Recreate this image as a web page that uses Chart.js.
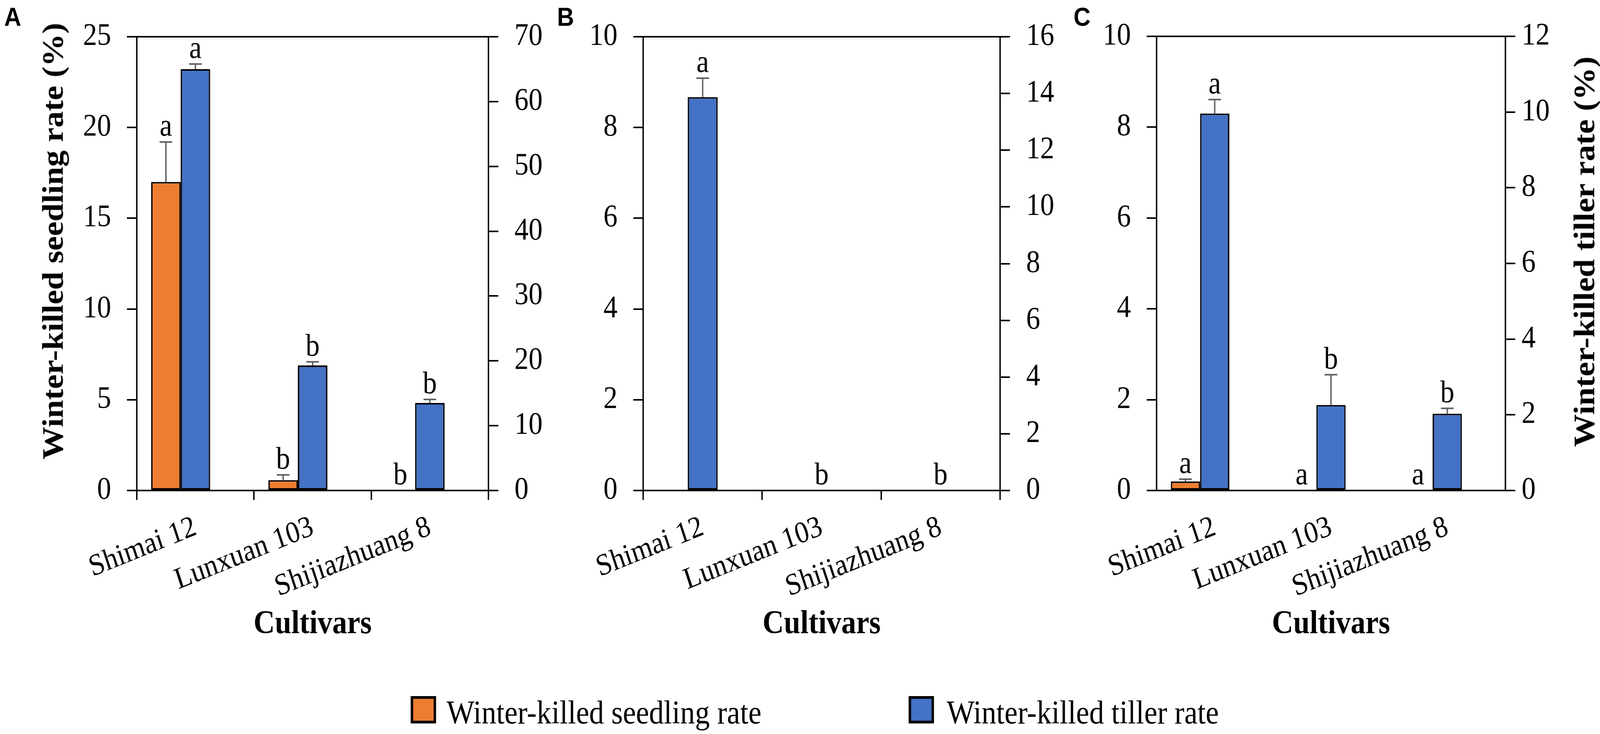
<!DOCTYPE html>
<html>
<head>
<meta charset="utf-8">
<script src="https://cdn.jsdelivr.net/npm/chart.js@4.4.1/dist/chart.umd.min.js"></script>
<style>
  html, body { margin: 0; background: #fff; overflow: hidden; }
  #page { position: absolute; left: 0; top: 0; width: 4550px; height: 1878px; transform-origin: 0 0; background: #fff; }
  canvas { position: absolute; top: 0; }
  .tag { position: absolute; top: 9px; font: bold 67px/67px "Liberation Sans", Arial, sans-serif; color: #000; }
  .box { position: absolute; top: 1781px; width: 58px; height: 56px; border: 7px solid #000; }
  .key { position: absolute; top: 1781px; font: 84px/84px "Liberation Serif", "Times New Roman", serif; white-space: nowrap; color: #000; }
  .vtitle { position: absolute; transform: translate(-50%, -50%) rotate(-90deg);
            font: bold 84px/84px "Liberation Serif", "Times New Roman", serif; white-space: nowrap; color: #000; }
</style>
</head>
<body>
<div id="page">
<canvas id="chartA" style="left:0px"></canvas>
<canvas id="chartB" style="left:1560px"></canvas>
<canvas id="chartC" style="left:3070px"></canvas>

<div class="tag" style="left:12px">A</div>
<div class="tag" style="left:1584px">B</div>
<div class="tag" style="left:3053px">C</div>
<div class="vtitle" style="left:150px; top:617px">Winter-killed seedling rate (%)</div>
<div class="vtitle" style="left:4505px; top:644px">Winter-killed tiller rate (%)</div>

<div class="box" style="left:1168px; background:#ED7D31"></div>
<div class="key" style="left:1270px">Winter-killed seedling rate</div>
<div class="box" style="left:2584px; background:#4472C4"></div>
<div class="key" style="left:2692px">Winter-killed tiller rate</div>
</div>

<script>
const cultivars = ["Shimai 12", "Lunxuan 103", "Shijiazhuang 8"];

// panel A
const seedA = [17.0, 0.57, 0];
const seedErrA = [2.2, 0.29, 0];
const seedLetA = ["a", "b", "b"];
const tillerA = [65.0, 19.3, 13.5];
const tillerErrA = [0.8, 0.55, 0.55];
const tillerLetA = ["a", "b", "b"];
const leftAxisA = [0, 25, 5];    // min, max, step
const rightAxisA = [0, 70, 10];

// panel B
const seedB = [0, 0, 0];
const seedErrB = [0, 0, 0];
const seedLetB = ["", "", ""];
const tillerB = [13.87, 0, 0];
const tillerErrB = [0.67, 0, 0];
const tillerLetB = ["a", "b", "b"];
const leftAxisB = [0, 10, 2];
const rightAxisB = [0, 16, 2];

// panel C
const seedC = [0.2, 0, 0];
const seedErrC = [0.05, 0, 0];
const seedLetC = ["a", "a", "a"];
const tillerC = [9.96, 2.26, 2.03];
const tillerErrC = [0.37, 0.8, 0.14];
const tillerLetC = ["a", "b", "b"];
const leftAxisC = [0, 10, 2];
const rightAxisC = [0, 12, 2];

// layout is done at 4550x1878, the window can be narrower (4096) so stretch to fit it
document.getElementById("page").style.transform =
    "scale(" + (window.innerWidth / 4550) + "," + (window.innerHeight / 1878) + ")";

Chart.defaults.font.family = "'Liberation Serif', 'Times New Roman', serif";
Chart.defaults.color = "#000";

// error bars (upper half only) and letters above them
const errorBars = {
    id: "errorBars",
    afterDatasetsDraw(chart) {
        const ctx = chart.ctx;
        chart.data.datasets.forEach((ds, i) => {
            if (!ds.errors) return;
            const meta = chart.getDatasetMeta(i);
            const scale = chart.scales[ds.yAxisID];
            meta.data.forEach((bar, j) => {
                const v = ds.data[j], e = ds.errors[j];
                const top = scale.getPixelForValue(v + e);
                ctx.save();
                if (e > 0) {
                    const base = scale.getPixelForValue(v);
                    ctx.strokeStyle = "#5f5f5f";
                    ctx.lineWidth = 4;
                    ctx.beginPath();
                    ctx.moveTo(bar.x, base);
                    ctx.lineTo(bar.x, top);
                    ctx.moveTo(bar.x - 18, top);
                    ctx.lineTo(bar.x + 18, top);
                    ctx.stroke();
                }
                if (ds.letters && ds.letters[j]) {
                    ctx.fillStyle = "#000";
                    ctx.font = "80px 'Liberation Serif', serif";
                    ctx.textAlign = "center";
                    ctx.textBaseline = "alphabetic";
                    ctx.fillText(ds.letters[j], bar.x, top - 16);
                }
                ctx.restore();
            });
        });
    }
};

function yScale(pos, range, p) {
    return {
        position: pos,
        min: range[0],
        max: range[1],
        ticks: { stepSize: range[2], font: { size: 80 }, padding: pos == "left" ? 45 : p.rightPad },
        grid: { drawOnChartArea: false, color: "#000", lineWidth: 4, tickLength: 28 },
        border: { color: "#000", width: 4 },
        afterFit: (s) => { s.width = pos == "left" ? p.leftW : p.rightW; }
    };
}

function makePanel(id, w, p) {
    const cv = document.getElementById(id);
    cv.width = w;
    cv.height = 1700;
    const bar = { borderColor: "#000", borderWidth: 4, borderSkipped: false, categoryPercentage: 0.755, barPercentage: 1 };
    new Chart(cv, {
        type: "bar",
        data: {
            labels: cultivars,
            datasets: [
                Object.assign({ label: "Winter-killed seedling rate", data: p.seed, errors: p.seedErr, letters: p.seedLet,
                    yAxisID: "yL", backgroundColor: "#ED7D31" }, bar),
                Object.assign({ label: "Winter-killed tiller rate", data: p.tiller, errors: p.tillerErr, letters: p.tillerLet,
                    yAxisID: "yR", backgroundColor: "#4472C4" }, bar),
                // empty third slot, the original keeps one free beside each pair
                Object.assign({ label: "", data: [null, null, null], yAxisID: "yL" }, bar)
            ]
        },
        options: {
            responsive: false,
            animation: false,
            devicePixelRatio: 1,
            layout: { padding: 0 },
            plugins: { legend: { display: false }, tooltip: { enabled: false } },
            scales: {
                x: {
                    grid: { offset: true, drawOnChartArea: false, color: p.xTicks ? "#000" : "rgba(0,0,0,0)", lineWidth: 4, tickLength: 24 },
                    border: { color: "#000", width: 4 },
                    ticks: { font: { size: 78 }, minRotation: 20, maxRotation: 20, autoSkip: false, padding: 24 },
                    title: { display: true, text: "Cultivars", font: { size: 84, weight: "bold" }, padding: { top: 0, bottom: 51 } },
                    afterFit: (s) => { s.height = 445; }
                },
                xTop: {
                    type: "category",
                    position: "top",
                    ticks: { display: false },
                    grid: { drawOnChartArea: false, drawTicks: false },
                    border: { color: "#000", width: 4 },
                    afterFit: (s) => { s.height = 38; }
                },
                yL: yScale("left", p.left, p),
                yR: yScale("right", p.right, p)
            }
        },
        plugins: [errorBars]
    });
}

makePanel("chartA", 1560, {
    seed: seedA, seedErr: seedErrA, seedLet: seedLetA,
    tiller: tillerA, tillerErr: tillerErrA, tillerLet: tillerLetA,
    left: leftAxisA, right: rightAxisA,
    leftW: 389, rightW: 171, rightPad: 46, xTicks: true
});
makePanel("chartB", 1510, {
    seed: seedB, seedErr: seedErrB, seedLet: seedLetB,
    tiller: tillerB, tillerErr: tillerErrB, tillerLet: tillerLetB,
    left: leftAxisB, right: rightAxisB,
    leftW: 269, rightW: 226, rightPad: 46, xTicks: true
});
makePanel("chartC", 1480, {
    seed: seedC, seedErr: seedErrC, seedLet: seedLetC,
    tiller: tillerC, tillerErr: tillerErrC, tillerLet: tillerLetC,
    left: leftAxisC, right: rightAxisC,
    leftW: 219, rightW: 269, rightPad: 18, xTicks: false
});
</script>
</body>
</html>
